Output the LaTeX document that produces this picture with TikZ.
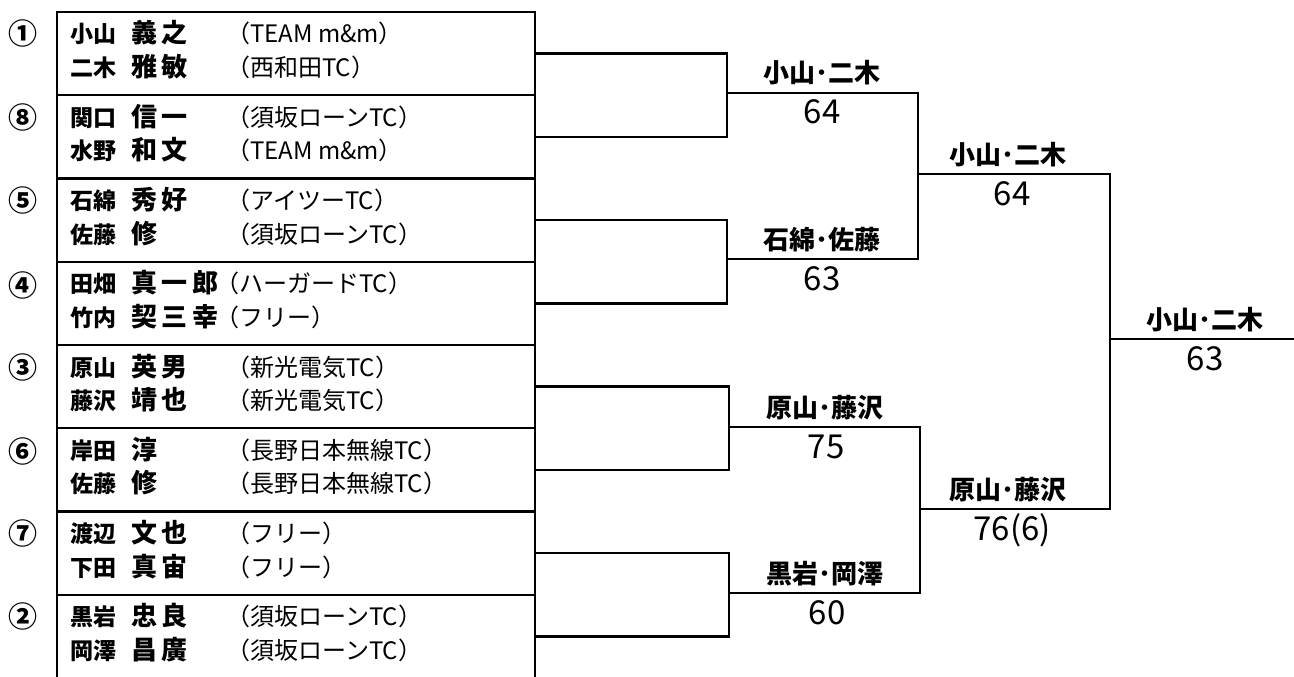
\documentclass[tikz,border=0pt]{standalone}
\usepackage{fontspec}
\newfontfamily\jp{Noto Sans CJK JP}
\newfontfamily\jpmei[LetterSpace=18]{Noto Sans CJK JP}

\begin{document}
\begin{tikzpicture}[
    x=1pt, y=-1pt,
    grp/.style={draw, line width=2.2pt, minimum width=478pt, minimum height=83.25pt, inner sep=0pt},
    seed/.style={anchor=base, inner sep=0pt, font=\jp\bfseries\fontsize{29}{34}\selectfont},
    sei/.style={anchor=base west, inner sep=0pt, font=\jp\bfseries\fontsize{23}{27}\selectfont},
    mei/.style={anchor=base west, inner sep=0pt, font=\jpmei\bfseries\fontsize{26}{30}\selectfont},
    club/.style={anchor=base west, inner sep=0pt, font=\jp\fontsize{24}{28}\selectfont},
    br/.style={line width=2.6pt},
    win/.style={anchor=base, inner sep=0pt, yshift=10pt, font=\jp\bfseries\fontsize{26}{30}\selectfont},
    score/.style={anchor=base, inner sep=0pt, yshift=-31pt, font=\jp\fontsize{33}{38}\selectfont}
  ]
    \useasboundingbox (0,0) rectangle (1294,677);

    % pairs
    \node[grp] (p1) at (296,53.625) {};
    \node[grp] (p2) at (296,136.875) {};
    \node[grp] (p3) at (296,220.125) {};
    \node[grp] (p4) at (296,303.375) {};
    \node[grp] (p5) at (296,386.625) {};
    \node[grp] (p6) at (296,469.875) {};
    \node[grp] (p7) at (296,553.125) {};
    \node[grp] (p8) at (296,636.375) {};

    \node[seed] (n1) at (23,45) {①};
    \node[sei] (sur1a) at (70,43) {小山}; \node[mei] (giv1a) at (131,43) {義之}; \node[club] (clb1a) at (226,43) {（TEAM m\&m）};
    \node[sei] (sur1b) at (70,76.5) {二木}; \node[mei] (giv1b) at (131,76.5) {雅敏}; \node[club] (clb1b) at (226,76.5) {（西和田TC）};

    \node[seed] (n2) at (23,128.25) {⑧};
    \node[sei] (sur2a) at (70,126.25) {関口}; \node[mei] (giv2a) at (131,126.25) {信一}; \node[club] (clb2a) at (226,126.25) {（須坂ローンTC）};
    \node[sei] (sur2b) at (70,159.75) {水野}; \node[mei] (giv2b) at (131,159.75) {和文}; \node[club] (clb2b) at (226,159.75) {（TEAM m\&m）};

    \node[seed] (n3) at (23,211.5) {⑤};
    \node[sei] (sur3a) at (70,209.5) {石綿}; \node[mei] (giv3a) at (131,209.5) {秀好}; \node[club] (clb3a) at (226,209.5) {（アイツーTC）};
    \node[sei] (sur3b) at (70,243) {佐藤}; \node[mei] (giv3b) at (131,243) {修}; \node[club] (clb3b) at (226,243) {（須坂ローンTC）};

    \node[seed] (n4) at (23,296.75) {④};
    \node[sei] (sur4a) at (70,292.75) {田畑}; \node[mei] (giv4a) at (131,292.75) {真一郎}; \node[club] (clb4a) at (215,292.75) {（ハーガードTC）};
    \node[sei] (sur4b) at (70,326.25) {竹内}; \node[mei] (giv4b) at (131,326.25) {契三幸}; \node[club] (clb4b) at (215,326.25) {（フリー）};

    \node[seed] (n5) at (23,378) {③};
    \node[sei] (sur5a) at (70,376) {原山}; \node[mei] (giv5a) at (131,376) {英男}; \node[club] (clb5a) at (226,376) {（新光電気TC）};
    \node[sei] (sur5b) at (70,409.5) {藤沢}; \node[mei] (giv5b) at (131,409.5) {靖也}; \node[club] (clb5b) at (226,409.5) {（新光電気TC）};

    \node[seed] (n6) at (23,462.25) {⑥};
    \node[sei] (sur6a) at (70,459.25) {岸田}; \node[mei] (giv6a) at (131,459.25) {淳}; \node[club] (clb6a) at (226,459.25) {（長野日本無線TC）};
    \node[sei] (sur6b) at (70,492.75) {佐藤}; \node[mei] (giv6b) at (131,492.75) {修}; \node[club] (clb6b) at (226,492.75) {（長野日本無線TC）};

    \node[seed] (n7) at (23,544.5) {⑦};
    \node[sei] (sur7a) at (70,542.5) {渡辺}; \node[mei] (giv7a) at (131,542.5) {文也}; \node[club] (clb7a) at (226,542.5) {（フリー）};
    \node[sei] (sur7b) at (70,576) {下田}; \node[mei] (giv7b) at (131,576) {真宙}; \node[club] (clb7b) at (226,576) {（フリー）};

    \node[seed] (n8) at (23,627.75) {②};
    \node[sei] (sur8a) at (70,625.75) {黒岩}; \node[mei] (giv8a) at (131,625.75) {忠良}; \node[club] (clb8a) at (226,625.75) {（須坂ローンTC）};
    \node[sei] (sur8b) at (70,659.25) {岡澤}; \node[mei] (giv8b) at (131,659.25) {昌廣}; \node[club] (clb8b) at (226,659.25) {（須坂ローンTC）};

    % bracket
    \coordinate (j1) at (727,93);
    \coordinate (j2) at (727,259);
    \coordinate (j3) at (729,427);
    \coordinate (j4) at (729,593);
    \coordinate (k1) at (918,174);
    \coordinate (k2) at (920,509);
    \coordinate (f) at (1110,339);
    \coordinate (fin) at (1294,339);

    \draw[br] (p1.east) -| (j1) |- (p2.east);
    \draw[br] (p3.east) -| (j2) |- (p4.east);
    \draw[br] (p5.east) -| (j3) |- (p6.east);
    \draw[br] (p7.east) -| (j4) |- (p8.east);
    \draw[br] (j1) -| (k1) |- (j2);
    \draw[br] (j3) -| (k2) |- (j4);
    \draw[br] (k1) -| (f) |- (k2);
    \draw[br] (f) -- (fin);

    \node[win] (w1) at (822,93) {小山･二木};  \node[score] (r1) at (822,93) {64};
    \node[win] (w2) at (822,259) {石綿･佐藤}; \node[score] (r2) at (822,259) {63};
    \node[win] (w3) at (825,427) {原山･藤沢}; \node[score] (r3) at (826,427) {75};
    \node[win] (w4) at (825,593) {黒岩･岡澤}; \node[score] (r4) at (827,593) {60};
    \node[win] (w5) at (1008,174) {小山･二木}; \node[score] (r5) at (1012,174) {64};
    \node[win] (w6) at (1008,509) {原山･藤沢}; \node[score] (r6) at (1012,509) {76(6)};
    \node[win] (w7) at (1205,339) {小山･二木}; \node[score] (r7) at (1205,339) {63};
  \end{tikzpicture}
\end{document}
